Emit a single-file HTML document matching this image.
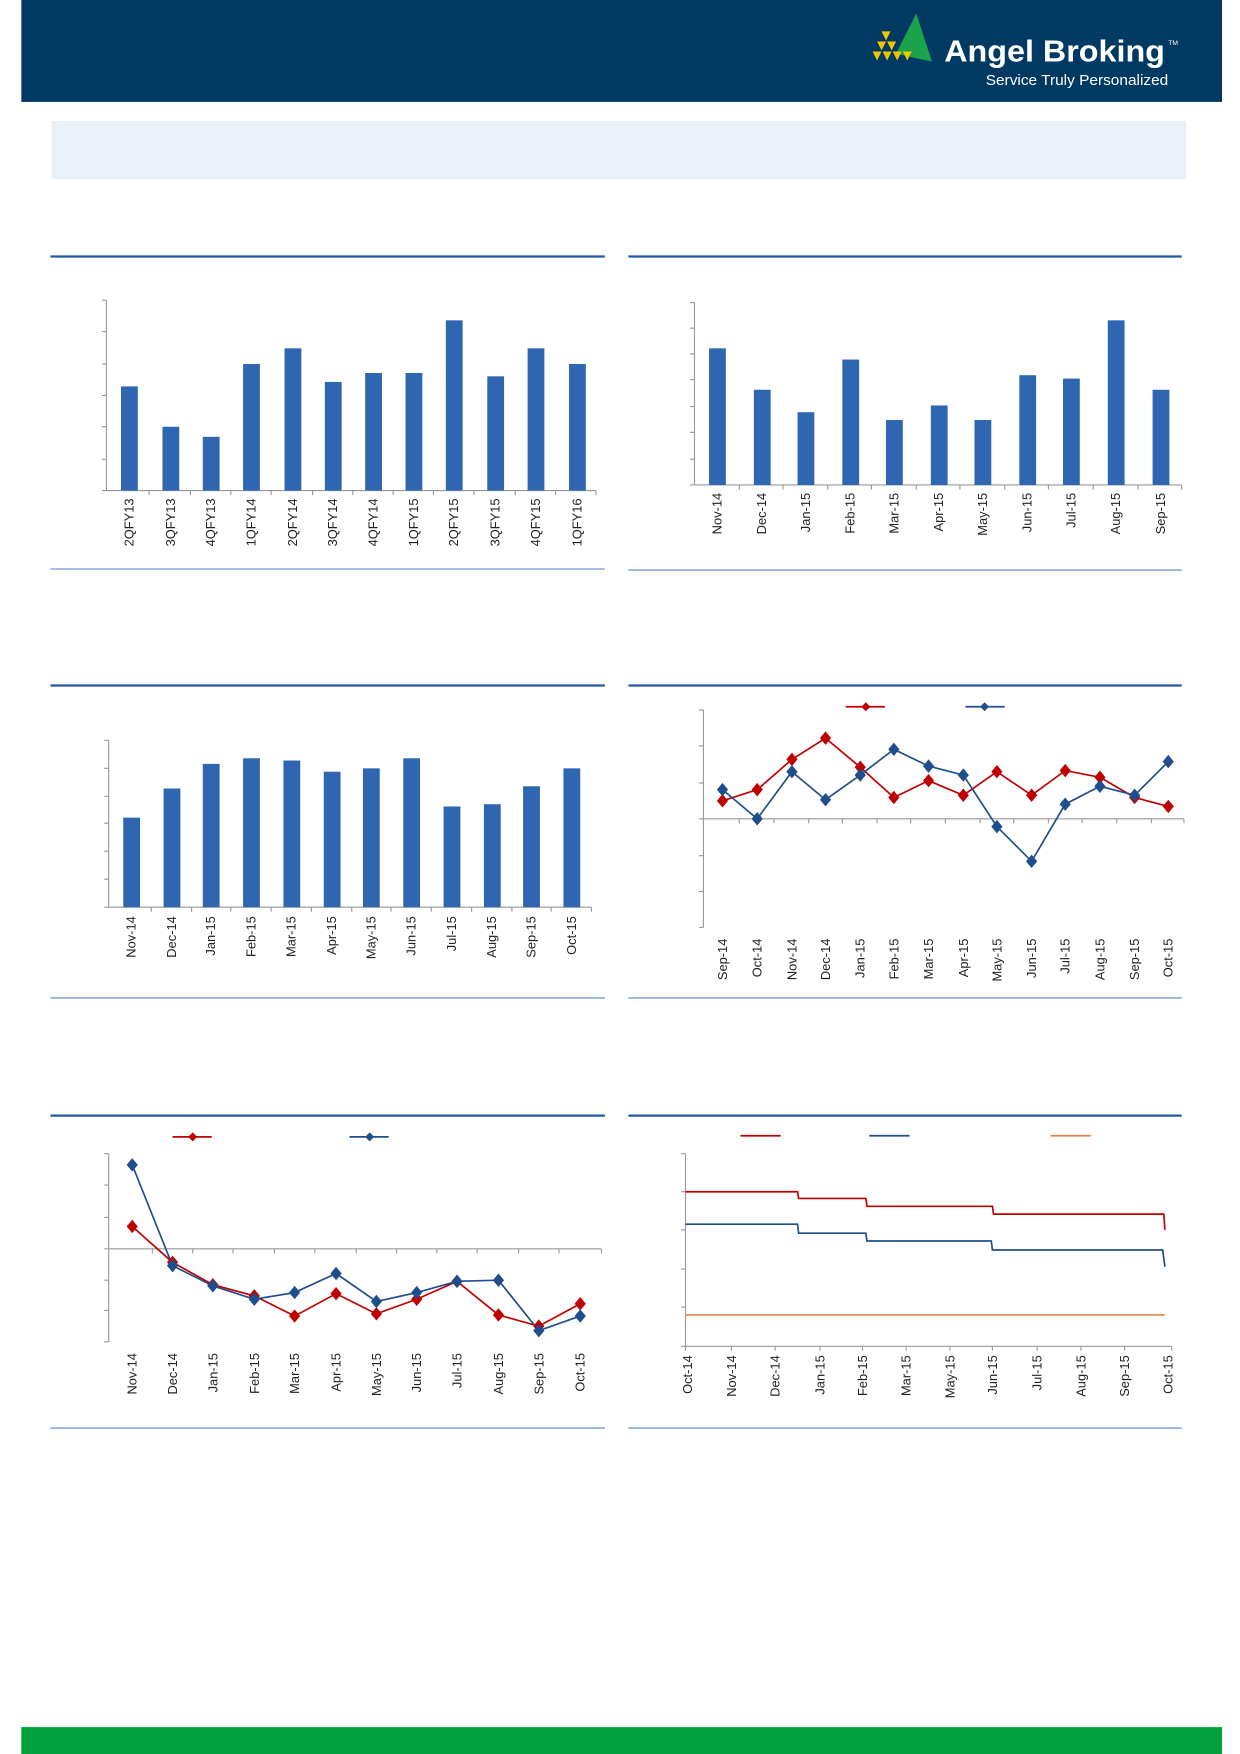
<!DOCTYPE html>
<html><head><meta charset="utf-8"><style>html,body{margin:0;padding:0;background:#fff}svg{display:block}text{font-family:"Liberation Sans",sans-serif}</style></head>
<body>
<svg width="1240" height="1754" viewBox="0 0 1107 1566" xmlns="http://www.w3.org/2000/svg">
<rect x="19" y="0" width="1072" height="91" fill="#003a63"/>
<polygon points="800,48 818,12 832,55" fill="#1aa34a"/>
<g fill="#f5c400">
<polygon points="787,28 795,28 791,36"/><polygon points="783,37 791,37 787,45"/><polygon points="792,37 800,37 796,45"/>
<polygon points="779,46 787,46 783,54"/><polygon points="788,46 796,46 792,54"/><polygon points="797,46 805,46 801,54"/><polygon points="806,46 814,46 810,54"/>
</g>
<text x="843" y="55" font-size="27" font-weight="bold" fill="#fff" textLength="197" lengthAdjust="spacingAndGlyphs">Angel Broking</text>
<text x="1043" y="40" font-size="6" fill="#fff">TM</text>
<text x="880" y="76" font-size="13" fill="#fff" textLength="163" lengthAdjust="spacingAndGlyphs">Service Truly Personalized</text>
<rect x="46" y="108" width="1013" height="52" fill="#eaf0f7"/>
<g stroke="#2458a0" stroke-width="2">
<line x1="45" y1="229" x2="540" y2="229"/><line x1="561" y1="229" x2="1055" y2="229"/>
<line x1="45" y1="612" x2="540" y2="612"/><line x1="561" y1="612" x2="1055" y2="612"/>
<line x1="45" y1="996" x2="540" y2="996"/><line x1="561" y1="996" x2="1055" y2="996"/>
</g>
<g stroke="#6f9bd0" stroke-width="1.2">
<line x1="45" y1="508" x2="540" y2="508"/><line x1="561" y1="509" x2="1055" y2="509"/>
<line x1="45" y1="891" x2="540" y2="891"/><line x1="561" y1="891" x2="1055" y2="891"/>
<line x1="45" y1="1275" x2="540" y2="1275"/><line x1="561" y1="1275" x2="1055" y2="1275"/>
</g>
<rect x="19" y="1542" width="1072" height="24" fill="#00a03c"/>

<g stroke="#999" stroke-width="1" fill="none">
<path d="M95,268V438H532M91,268H95M91,296H95M91,325H95M91,353H95M91,381H95M91,410H95M91,438H95"/>
<path d="M133,438v4M170,438v4M206,438v4M242,438v4M279,438v4M315,438v4M351,438v4M387,438v4M423,438v4M460,438v4M496,438v4M532,438v4"/>
</g>
<g fill="#2f66b2">
<rect x="108" y="345" width="15" height="93"/><rect x="145" y="381" width="15" height="57"/><rect x="181" y="390" width="15" height="48"/>
<rect x="217" y="325" width="15" height="113"/><rect x="254" y="311" width="15" height="127"/><rect x="290" y="341" width="15" height="97"/>
<rect x="326" y="333" width="15" height="105"/><rect x="362" y="333" width="15" height="105"/><rect x="398" y="286" width="15" height="152"/>
<rect x="435" y="336" width="15" height="102"/><rect x="471" y="311" width="15" height="127"/><rect x="508" y="325" width="15" height="113"/>
</g>
<g font-size="11.5" fill="#222" text-anchor="end">
<text transform="translate(119,445) rotate(-90)">2QFY13</text><text transform="translate(156,445) rotate(-90)">3QFY13</text>
<text transform="translate(192,445) rotate(-90)">4QFY13</text><text transform="translate(228,445) rotate(-90)">1QFY14</text>
<text transform="translate(265,445) rotate(-90)">2QFY14</text><text transform="translate(301,445) rotate(-90)">3QFY14</text>
<text transform="translate(337,445) rotate(-90)">4QFY14</text><text transform="translate(373,445) rotate(-90)">1QFY15</text>
<text transform="translate(409,445) rotate(-90)">2QFY15</text><text transform="translate(446,445) rotate(-90)">3QFY15</text>
<text transform="translate(482,445) rotate(-90)">4QFY15</text><text transform="translate(519,445) rotate(-90)">1QFY16</text>
</g>

<g stroke="#999" stroke-width="1" fill="none">
<path d="M620,270V433H1055M616,270H620M616,293H620M616,316H620M616,339H620M616,363H620M616,386H620M616,410H620M616,433H620"/>
<path d="M660,433v4M699,433v4M739,433v4M778,433v4M818,433v4M857,433v4M897,433v4M936,433v4M976,433v4M1016,433v4M1055,433v4"/>
</g>
<g fill="#2f66b2">
<rect x="633" y="311" width="15" height="122"/><rect x="673" y="348" width="15" height="85"/><rect x="712" y="368" width="15" height="65"/>
<rect x="752" y="321" width="15" height="112"/><rect x="791" y="375" width="15" height="58"/><rect x="831" y="362" width="15" height="71"/>
<rect x="870" y="375" width="15" height="58"/><rect x="910" y="335" width="15" height="98"/><rect x="949" y="338" width="15" height="95"/>
<rect x="989" y="286" width="15" height="147"/><rect x="1029" y="348" width="15" height="85"/>
</g>
<g font-size="11.5" fill="#222" text-anchor="end">
<text transform="translate(644,440) rotate(-90)">Nov-14</text><text transform="translate(684,440) rotate(-90)">Dec-14</text>
<text transform="translate(723,440) rotate(-90)">Jan-15</text><text transform="translate(763,440) rotate(-90)">Feb-15</text>
<text transform="translate(802,440) rotate(-90)">Mar-15</text><text transform="translate(842,440) rotate(-90)">Apr-15</text>
<text transform="translate(881,440) rotate(-90)">May-15</text><text transform="translate(921,440) rotate(-90)">Jun-15</text>
<text transform="translate(960,440) rotate(-90)">Jul-15</text><text transform="translate(1000,440) rotate(-90)">Aug-15</text>
<text transform="translate(1040,440) rotate(-90)">Sep-15</text>
</g>

<g stroke="#999" stroke-width="1" fill="none">
<path d="M97,661V810H528M93,661H97M93,686H97M93,711H97M93,735H97M93,760H97M93,785H97M93,810H97"/>
<path d="M135,810v4M171,810v4M206,810v4M242,810v4M278,810v4M314,810v4M349,810v4M385,810v4M421,810v4M457,810v4M492,810v4M528,810v4"/>
</g>
<g fill="#2f66b2">
<rect x="110" y="730" width="15" height="80"/><rect x="146" y="704" width="15" height="106"/><rect x="181" y="682" width="15" height="128"/>
<rect x="217" y="677" width="15" height="133"/><rect x="253" y="679" width="15" height="131"/><rect x="289" y="689" width="15" height="121"/>
<rect x="324" y="686" width="15" height="124"/><rect x="360" y="677" width="15" height="133"/><rect x="396" y="720" width="15" height="90"/>
<rect x="432" y="718" width="15" height="92"/><rect x="467" y="702" width="15" height="108"/><rect x="503" y="686" width="15" height="124"/>
</g>
<g font-size="11.5" fill="#222" text-anchor="end">
<text transform="translate(121,818) rotate(-90)">Nov-14</text><text transform="translate(157,818) rotate(-90)">Dec-14</text>
<text transform="translate(192,818) rotate(-90)">Jan-15</text><text transform="translate(228,818) rotate(-90)">Feb-15</text>
<text transform="translate(264,818) rotate(-90)">Mar-15</text><text transform="translate(300,818) rotate(-90)">Apr-15</text>
<text transform="translate(335,818) rotate(-90)">May-15</text><text transform="translate(371,818) rotate(-90)">Jun-15</text>
<text transform="translate(407,818) rotate(-90)">Jul-15</text><text transform="translate(443,818) rotate(-90)">Aug-15</text>
<text transform="translate(478,818) rotate(-90)">Sep-15</text><text transform="translate(514,818) rotate(-90)">Oct-15</text>
</g>

<g stroke="#999" stroke-width="1" fill="none">
<path d="M628,634V828M624,634H628M624,666H628M624,699H628M624,731H628M624,764H628M624,796H628M624,828H628M628,731H1057"/>
<path d="M660,731v4M691,731v4M722,731v4M752,731v4M783,731v4M813,731v4M844,731v4M875,731v4M905,731v4M936,731v4M966,731v4M997,731v4M1028,731v4M1057,731v4"/>
</g>
<polyline fill="none" stroke="#c00000" stroke-width="1.5" points="645,715 676,705 707,678 737,659 768,685 798,712 829,697 860,710 890,689 921,710 951,688 982,694 1013,712 1043,720"/>
<polyline fill="none" stroke="#1f4e8c" stroke-width="1.5" points="645,705 676,731 707,689 737,714 768,692 798,669 829,684 860,692 890,738 921,769 951,718 982,702 1013,710 1043,680"/>
<g fill="#c00000">
<path d="M645,709l5,6-5,6-5-6zM676,699l5,6-5,6-5-6zM707,672l5,6-5,6-5-6zM737,653l5,6-5,6-5-6zM768,679l5,6-5,6-5-6zM798,706l5,6-5,6-5-6zM829,691l5,6-5,6-5-6zM860,704l5,6-5,6-5-6zM890,683l5,6-5,6-5-6zM921,704l5,6-5,6-5-6zM951,682l5,6-5,6-5-6zM982,688l5,6-5,6-5-6zM1013,706l5,6-5,6-5-6zM1043,714l5,6-5,6-5-6z"/>
</g>
<g fill="#1f4e8c">
<path d="M645,699l5,6-5,6-5-6zM676,725l5,6-5,6-5-6zM707,683l5,6-5,6-5-6zM737,708l5,6-5,6-5-6zM768,686l5,6-5,6-5-6zM798,663l5,6-5,6-5-6zM829,678l5,6-5,6-5-6zM860,686l5,6-5,6-5-6zM890,732l5,6-5,6-5-6zM921,763l5,6-5,6-5-6zM951,712l5,6-5,6-5-6zM982,696l5,6-5,6-5-6zM1013,704l5,6-5,6-5-6zM1043,674l5,6-5,6-5-6z"/>
</g>
<line x1="755" y1="631" x2="790" y2="631" stroke="#c00000" stroke-width="1.5"/><path d="M773,627l4,4-4,4-4-4z" fill="#c00000"/>
<line x1="862" y1="631" x2="897" y2="631" stroke="#1f4e8c" stroke-width="1.5"/><path d="M879,627l4,4-4,4-4-4z" fill="#1f4e8c"/>
<g font-size="11.5" fill="#222" text-anchor="end">
<text transform="translate(649,838) rotate(-90)">Sep-14</text><text transform="translate(680,838) rotate(-90)">Oct-14</text>
<text transform="translate(711,838) rotate(-90)">Nov-14</text><text transform="translate(741,838) rotate(-90)">Dec-14</text>
<text transform="translate(772,838) rotate(-90)">Jan-15</text><text transform="translate(802,838) rotate(-90)">Feb-15</text>
<text transform="translate(833,838) rotate(-90)">Mar-15</text><text transform="translate(864,838) rotate(-90)">Apr-15</text>
<text transform="translate(894,838) rotate(-90)">May-15</text><text transform="translate(925,838) rotate(-90)">Jun-15</text>
<text transform="translate(955,838) rotate(-90)">Jul-15</text><text transform="translate(986,838) rotate(-90)">Aug-15</text>
<text transform="translate(1017,838) rotate(-90)">Sep-15</text><text transform="translate(1047,838) rotate(-90)">Oct-15</text>
</g>

<g stroke="#999" stroke-width="1" fill="none">
<path d="M97,1030V1198M93,1030H97M93,1058H97M93,1087H97M93,1115H97M93,1143H97M93,1170H97M93,1198H97M97,1115H537"/>
<path d="M136,1115v4M172,1115v4M208,1115v4M245,1115v4M281,1115v4M318,1115v4M354,1115v4M390,1115v4M426,1115v4M463,1115v4M499,1115v4M537,1115v4"/>
</g>
<polyline fill="none" stroke="#c00000" stroke-width="1.5" points="118,1095 154,1127 190,1147 227,1157 263,1175 300,1155 336,1173 372,1160 408,1144 445,1174 481,1184 518,1164"/>
<polyline fill="none" stroke="#1f4e8c" stroke-width="1.5" points="118,1040 154,1130 190,1148 227,1160 263,1154 300,1137 336,1162 372,1154 408,1144 445,1143 481,1188 518,1175"/>
<g fill="#c00000">
<path d="M118,1089l5,6-5,6-5-6zM154,1121l5,6-5,6-5-6zM190,1141l5,6-5,6-5-6zM227,1151l5,6-5,6-5-6zM263,1169l5,6-5,6-5-6zM300,1149l5,6-5,6-5-6zM336,1167l5,6-5,6-5-6zM372,1154l5,6-5,6-5-6zM408,1138l5,6-5,6-5-6zM445,1168l5,6-5,6-5-6zM481,1178l5,6-5,6-5-6zM518,1158l5,6-5,6-5-6z"/>
</g>
<g fill="#1f4e8c">
<path d="M118,1034l5,6-5,6-5-6zM154,1124l5,6-5,6-5-6zM190,1142l5,6-5,6-5-6zM227,1154l5,6-5,6-5-6zM263,1148l5,6-5,6-5-6zM300,1131l5,6-5,6-5-6zM336,1156l5,6-5,6-5-6zM372,1148l5,6-5,6-5-6zM408,1138l5,6-5,6-5-6zM445,1137l5,6-5,6-5-6zM481,1182l5,6-5,6-5-6zM518,1169l5,6-5,6-5-6z"/>
</g>
<line x1="154" y1="1015" x2="189" y2="1015" stroke="#c00000" stroke-width="1.5"/><path d="M172,1011l4,4-4,4-4-4z" fill="#c00000"/>
<line x1="312" y1="1015" x2="347" y2="1015" stroke="#1f4e8c" stroke-width="1.5"/><path d="M330,1011l4,4-4,4-4-4z" fill="#1f4e8c"/>
<g font-size="11.5" fill="#222" text-anchor="end">
<text transform="translate(122,1208) rotate(-90)">Nov-14</text><text transform="translate(158,1208) rotate(-90)">Dec-14</text>
<text transform="translate(194,1208) rotate(-90)">Jan-15</text><text transform="translate(231,1208) rotate(-90)">Feb-15</text>
<text transform="translate(267,1208) rotate(-90)">Mar-15</text><text transform="translate(304,1208) rotate(-90)">Apr-15</text>
<text transform="translate(340,1208) rotate(-90)">May-15</text><text transform="translate(376,1208) rotate(-90)">Jun-15</text>
<text transform="translate(412,1208) rotate(-90)">Jul-15</text><text transform="translate(449,1208) rotate(-90)">Aug-15</text>
<text transform="translate(485,1208) rotate(-90)">Sep-15</text><text transform="translate(522,1208) rotate(-90)">Oct-15</text>
</g>

<g stroke="#999" stroke-width="1" fill="none">
<path d="M612,1030V1202H1046M608,1030H612M608,1064H612M608,1098H612M608,1133H612M608,1167H612M608,1202H612"/>
<path d="M612,1202v4M653,1202v4M692,1202v4M732,1202v4M770,1202v4M809,1202v4M848,1202v4M886,1202v4M926,1202v4M965,1202v4M1004,1202v4M1046,1202v4"/>
</g>
<path d="M612,1064H712L713,1070H773L774,1077H886L887,1084H1039L1040,1098" fill="none" stroke="#c00000" stroke-width="1.5"/>
<path d="M612,1093H712L713,1101H773L774,1108H885L886,1116H1038L1040,1131" fill="none" stroke="#1f4e8c" stroke-width="1.5"/>
<line x1="612" y1="1174" x2="1040" y2="1174" stroke="#e6814a" stroke-width="1.5"/>
<line x1="661" y1="1014" x2="697" y2="1014" stroke="#c00000" stroke-width="1.5"/>
<line x1="776" y1="1014" x2="812" y2="1014" stroke="#1f4e8c" stroke-width="1.5"/>
<line x1="938" y1="1014" x2="974" y2="1014" stroke="#e6814a" stroke-width="1.5"/>
<g font-size="11.5" fill="#222" text-anchor="end">
<text transform="translate(618,1210) rotate(-90)">Oct-14</text><text transform="translate(657,1210) rotate(-90)">Nov-14</text>
<text transform="translate(696,1210) rotate(-90)">Dec-14</text><text transform="translate(736,1210) rotate(-90)">Jan-15</text>
<text transform="translate(774,1210) rotate(-90)">Feb-15</text><text transform="translate(813,1210) rotate(-90)">Mar-15</text>
<text transform="translate(852,1210) rotate(-90)">May-15</text><text transform="translate(890,1210) rotate(-90)">Jun-15</text>
<text transform="translate(930,1210) rotate(-90)">Jul-15</text><text transform="translate(969,1210) rotate(-90)">Aug-15</text>
<text transform="translate(1008,1210) rotate(-90)">Sep-15</text><text transform="translate(1047,1210) rotate(-90)">Oct-15</text>
</g>
</svg>
</body></html>
